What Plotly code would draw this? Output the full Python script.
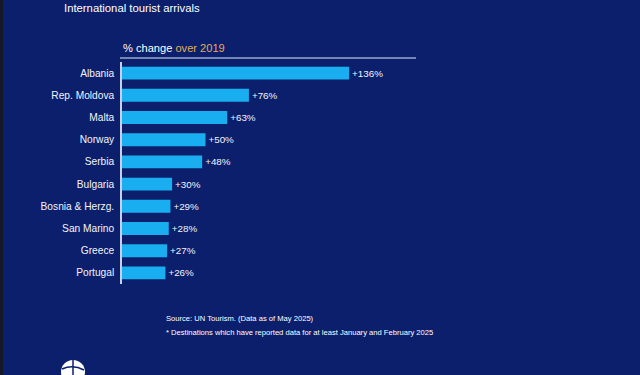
import plotly.graph_objects as go

countries = ["Albania", "Rep. Moldova", "Malta", "Norway", "Serbia", "Bulgaria",
             "Bosnia & Herzg.", "San Marino", "Greece", "Portugal"]
pct_change = [136, 76, 63, 50, 48, 30, 29, 28, 27, 26]
labels = ["+%d%%" % v for v in pct_change]

BG = "#0b1f6d"
BAR = "#19aeef"

W, H = 640, 375
L, R = 122, 456   # plot area px
T, B = 62, 284

def px(x):
    return (x - L) / (R - L)

def py(y):
    return (B - y) / (B - T)

fig = go.Figure(go.Bar(
    x=pct_change, y=countries, orientation="h",
    marker=dict(color=BAR, line=dict(width=0)),
    text=labels, textposition="outside", cliponaxis=False,
    textfont=dict(color="#f2f4fa", size=9.8, family="Liberation Sans"),
    hoverinfo="skip",
))

fig.update_layout(
    width=W, height=H,
    paper_bgcolor=BG, plot_bgcolor=BG,
    margin=dict(l=L, r=W - R, t=T, b=H - B),
    bargap=0.42,
    showlegend=False,
    font=dict(family="Liberation Sans", color="white"),
    xaxis=dict(range=[0, 200], visible=False, fixedrange=True),
    yaxis=dict(autorange="reversed", showline=True, linecolor="#c8d0e8", linewidth=1.5,
               showgrid=False, zeroline=False, ticks="", ticklabelstandoff=4, fixedrange=True,
               tickfont=dict(size=10.2, color="#f2f4fa", family="Liberation Sans")),
    annotations=[
        dict(text="International tourist arrivals", x=px(62), y=py(8), xref="paper", yref="paper",
             xanchor="left", yanchor="middle", showarrow=False,
             font=dict(size=11.3, color="white", family="Liberation Sans")),
        dict(text="% change <span style='color:#e0ad5c'>over 2019</span>", x=px(121), y=py(48),
             xref="paper", yref="paper", xanchor="left", yanchor="middle", showarrow=False,
             font=dict(size=11.1, color="white", family="Liberation Sans")),
        dict(text="Source: UN Tourism. (Data as of May 2025)", x=px(164), y=py(318),
             xref="paper", yref="paper", xanchor="left", yanchor="middle", showarrow=False,
             font=dict(size=7.6, color="white", family="Liberation Sans")),
        dict(text="* Destinations which have reported data for at least January and February 2025",
             x=px(164), y=py(332), xref="paper", yref="paper", xanchor="left", yanchor="middle",
             showarrow=False, font=dict(size=7.6, color="white", family="Liberation Sans")),
    ],
    shapes=[
        dict(type="line", xref="paper", yref="paper", x0=px(120), x1=px(416), y0=py(58), y1=py(58),
             line=dict(color="#9aa8cc", width=1.5)),
        dict(type="rect", xref="paper", yref="paper", x0=px(0), x1=px(3), y0=py(0), y1=py(375),
             fillcolor="#15162a", line=dict(width=0), layer="above"),
        dict(type="circle", xref="paper", yref="paper", x0=px(61), x1=px(85), y0=py(360), y1=py(384),
             fillcolor="white", line=dict(width=0)),
        dict(type="line", xref="paper", yref="paper", x0=px(73), x1=px(73), y0=py(360), y1=py(376),
             line=dict(color=BG, width=1.5)),
        dict(type="path", xref="paper", yref="paper",
             path="M %f,%f Q %f,%f %f,%f" % (px(62), py(369), px(73), py(364), px(84), py(370)),
             line=dict(color=BG, width=1.5)),
    ],
)

fig.write_html("out.html", config={"displayModeBar": False},
               post_script="document.body.style.margin='0';")
